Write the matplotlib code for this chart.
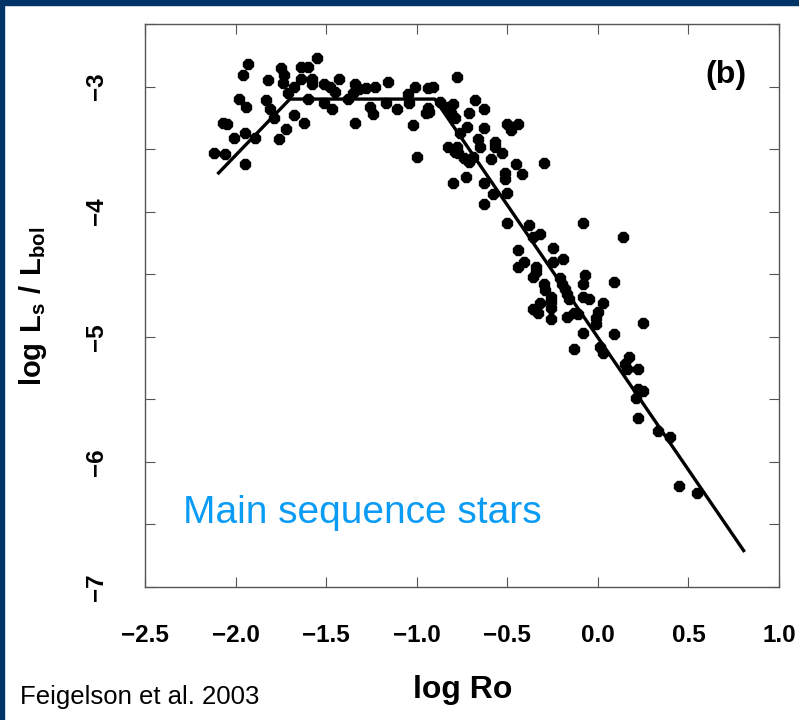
import matplotlib
matplotlib.use('Agg')
import matplotlib.pyplot as plt
from matplotlib.patches import Rectangle
from matplotlib.ticker import MultipleLocator, FuncFormatter

plt.rcParams['font.family'] = ['Liberation Sans', 'DejaVu Sans']
plt.rcParams['mathtext.fontset'] = 'custom'
plt.rcParams['mathtext.rm'] = 'Liberation Sans'
plt.rcParams['mathtext.bf'] = 'Liberation Sans:bold'

# Data: log Ro vs log Ls/Lbol
log_ro = [
    -1.93, -1.96, -1.75, -1.64, -1.60, -1.55, -1.73, -1.82, -1.74, -1.64,
    -1.58, -1.58, -1.43, -1.51, -1.48, -1.68, -1.71, -1.45, -1.34, -1.32,
    -1.35, -1.28, -1.23, -1.16, -1.01, -0.94, -0.91, -1.05, -0.78, -1.98,
    -1.94, -1.83, -1.60, -1.51, -1.47, -1.38, -1.26, -1.24, -1.17, -1.11,
    -1.04, -0.94, -0.95, -0.87, -0.83, -1.81, -1.79, -1.68, -1.62, -1.34,
    -1.02, -2.07, -2.05, -1.95, -1.72, -1.89, -2.01, -1.76, -2.12, -2.06,
    -1.95, -1.00, -0.83, -0.79, -0.80,
    -0.81, -0.79, -0.93, -0.80, -0.68, -0.63, -0.71, -0.76, -0.72, -0.63,
    -0.50, -0.44, -0.48, -0.66, -0.65, -0.57, -0.57, -0.53, -0.78, -0.77,
    -0.74, -0.71, -0.69, -0.59, -0.73, -0.63, -0.30, -0.45, -0.51, -0.51,
    -0.42, -0.58, -0.50, -0.63, -0.50, -0.38, -0.32, -0.36, -0.08, 0.14,
    -0.44, -0.25, -0.19, -0.41, -0.44, -0.25, -0.34, -0.34, -0.36, -0.21,
    -0.20, -0.18, -0.17, -0.16, -0.07, -0.08, 0.09, -0.30, -0.29, -0.26,
    -0.26, -0.26, -0.32, -0.36, -0.33, -0.26, -0.08, -0.05, 0.03, -0.17,
    -0.13, -0.11, 0.00, -0.01, -0.01, 0.25, -0.08, 0.09, -0.13, 0.01,
    0.03, 0.17, 0.15, 0.16, 0.22,
    0.22, 0.25, 0.21, 0.22, 0.33, 0.40, 0.45, 0.55,
]
log_ls_lbol = [
    -2.82, -2.91, -2.85, -2.84, -2.84, -2.77, -2.91, -2.95, -2.97, -2.94,
    -2.94, -2.98, -2.94, -2.98, -3.00, -3.00, -3.05, -3.04, -2.98, -3.02,
    -3.05, -3.01, -3.00, -2.96, -3.00, -3.01, -3.00, -3.06, -2.92, -3.10,
    -3.16, -3.11, -3.10, -3.13, -3.18, -3.10, -3.16, -3.22, -3.13, -3.18,
    -3.13, -3.17, -3.21, -3.12, -3.16, -3.18, -3.25, -3.23, -3.29, -3.29,
    -3.31, -3.29, -3.30, -3.37, -3.34, -3.41, -3.41, -3.42, -3.53, -3.54,
    -3.62, -3.56, -3.48, -3.52, -3.77,
    -3.21, -3.25, -3.20, -3.14, -3.11, -3.18, -3.21, -3.37, -3.32, -3.33,
    -3.30, -3.30, -3.35, -3.42, -3.48, -3.44, -3.48, -3.53, -3.48, -3.53,
    -3.57, -3.60, -3.56, -3.58, -3.72, -3.77, -3.61, -3.62, -3.69, -3.74,
    -3.70, -3.86, -3.85, -3.94, -4.09, -4.11, -4.18, -4.20, -4.09, -4.20,
    -4.31, -4.29, -4.38, -4.40, -4.44, -4.40, -4.44, -4.48, -4.52, -4.53,
    -4.58, -4.62, -4.66, -4.70, -4.51, -4.58, -4.56, -4.58, -4.63, -4.68,
    -4.72, -4.77, -4.73, -4.78, -4.81, -4.86, -4.68, -4.70, -4.73, -4.84,
    -4.81, -4.82, -4.80, -4.85, -4.90, -4.89, -4.97, -4.98, -5.10, -5.08,
    -5.13, -5.16, -5.22, -5.26, -5.26,
    -5.42, -5.43, -5.49, -5.65, -5.75, -5.80, -6.19, -6.25,
]

# Broken power-law fit
fit_ro = [-2.10, -1.70, -0.90, 0.81]
fit_ls = [-3.70, -3.10, -3.10, -6.72]

W, H = 799, 720
fig = plt.figure(figsize=(W / 100, H / 100), dpi=100)
ax = fig.add_axes([145 / W, 1 - 587 / H, 634 / W, 563 / H])

ax.plot(fit_ro, fit_ls, color='black', lw=2.4, solid_capstyle='butt', zorder=3)
ax.plot(log_ro, log_ls_lbol, ls='none', marker='8', ms=7.2, color='black', zorder=4)

ax.set_xlim(-2.5, 1.0)
ax.set_ylim(-7.0, -2.5)
ax.xaxis.set_major_locator(MultipleLocator(0.5))
ax.yaxis.set_major_locator(MultipleLocator(1.0))
ax.yaxis.set_minor_locator(MultipleLocator(0.5))

ax.tick_params(which='both', direction='in', top=True, right=True,
               length=7, width=0.8, color='#555555', pad=27)
ax.tick_params(axis='both', labelsize=17.5)
ax.xaxis.set_major_formatter(FuncFormatter(lambda v, p: f'{v:.1f}'.replace('-', '\u2212')))
ax.yaxis.set_major_formatter(FuncFormatter(lambda v, p: f'{v:.0f}'.replace('-', '\u2212')))
for lab in ax.get_xticklabels() + ax.get_yticklabels():
    lab.set_fontweight('bold')
for lab in ax.get_yticklabels():
    lab.set_rotation(90)
    lab.set_va('center')
for sp in ax.spines.values():
    sp.set_color('#555555')
    sp.set_linewidth(1.0)


def px(x, y):
    return x / W, 1 - y / H


fig.text(*px(726, 75), '(b)', fontsize=23, fontweight='bold', ha='center', va='center')
fig.text(*px(362, 513), 'Main sequence stars', fontsize=28, color='#0a9cf5',
         ha='center', va='center')
fig.text(*px(463, 690), 'log Ro', fontsize=23, fontweight='bold', ha='center', va='center')
fig.text(*px(33, 306), r'$\mathbf{log\ L_{s}\ /\ L_{bol}}$', fontsize=21, rotation=90,
         ha='center', va='center')
fig.text(*px(140, 697), 'Feigelson et al. 2003', fontsize=18.5, ha='center', va='center')

# dark blue frame on top and left edges
fig.patches.append(Rectangle((0, 1 - 5 / H), 1, 5 / H, transform=fig.transFigure,
                             color='#003366', zorder=10))
fig.patches.append(Rectangle((0, 0), 4 / W, 1, transform=fig.transFigure,
                             color='#003366', zorder=10))

plt.savefig('out.png', dpi=100)
